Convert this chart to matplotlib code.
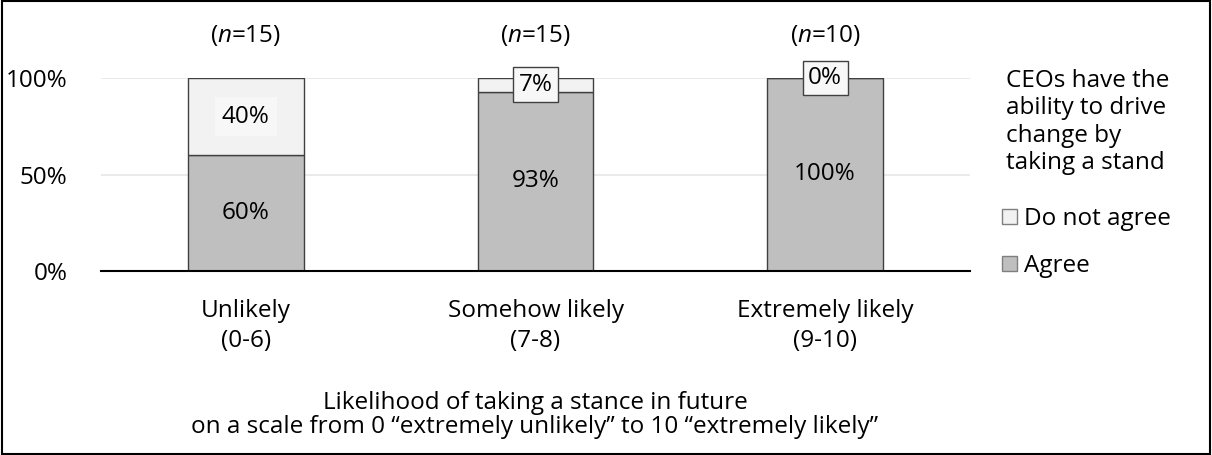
import matplotlib
matplotlib.use('Agg')
import matplotlib.pyplot as plt
from matplotlib.patches import Rectangle, Patch

# data
categories = ['Unlikely\n(0-6)', 'Somehow likely\n(7-8)', 'Extremely likely\n(9-10)']
n_sizes = [15, 15, 10]
agree = [60, 93, 100]
not_agree = [40, 7, 0]

plt.rcParams['font.family'] = ['Open Sans', 'DejaVu Sans']
plt.rcParams['mathtext.fontset'] = 'custom'
plt.rcParams['mathtext.it'] = 'Open Sans:italic'
plt.rcParams['mathtext.rm'] = 'Open Sans'
fs = 17.5

fig = plt.figure(figsize=(12.12, 4.55), dpi=100)
ax = fig.add_axes([101/1212, 1 - 271/455, (970-101)/1212, (271-78)/455])

x = range(len(categories))
c_agree = '#BFBFBF'
c_not = '#F2F2F2'
edge = '#404040'
ax.bar(x, agree, width=0.4, color=c_agree, edgecolor=edge, linewidth=1, label='Agree', zorder=3)
ax.bar(x, not_agree, width=0.4, bottom=agree, color=c_not, edgecolor=edge, linewidth=1,
       label='Do not agree', zorder=3)

for i in x:
    ax.text(i, agree[i] / 2, f'{agree[i]}%', ha='center', va='center', fontsize=fs, zorder=4)
    y = agree[i] + not_agree[i] / 2
    if not_agree[i] >= 20:
        box = dict(boxstyle='square,pad=0.3', facecolor='#F7F7F7', edgecolor='none')
    else:
        box = dict(boxstyle='square,pad=0.22', facecolor='#F7F7F7', edgecolor=edge, linewidth=1)
    ax.text(i, y, f'{not_agree[i]}%', ha='center', va='center', fontsize=fs, bbox=box, zorder=5)
    ax.text(i, 122, f'($\\it{{n}}$={n_sizes[i]})', ha='center', va='center', fontsize=fs,
            clip_on=False)

ax.set_xlim(-0.5, 2.5)
ax.set_ylim(0, 100)
ax.set_yticks([0, 50, 100])
ax.set_yticklabels(['0%', '50%', '100%'])
ax.set_xticks(list(x))
ax.set_xticklabels(categories, linespacing=1.35)
ax.tick_params(axis='both', length=0, labelsize=fs)
ax.tick_params(axis='y', pad=24)
ax.tick_params(axis='x', pad=20)
ax.yaxis.grid(True, color='#E6E6E6', linewidth=1.2, zorder=0)
ax.set_axisbelow(True)
for s in ['top', 'right', 'left']:
    ax.spines[s].set_visible(False)
ax.spines['bottom'].set_linewidth(1.5)
ax.spines['bottom'].set_zorder(4)

fig.text(535/1212, 1 - 415/455,
         'Likelihood of taking a stance in future\non a scale from 0 \u201cextremely unlikely\u201d to 10 \u201cextremely likely\u201d',
         ha='center', va='center', fontsize=fs, linespacing=1.05)

# legend title as plain text, entries as a legend below it
fig.text(1006/1212, 1 - 122/455, 'CEOs have the\nability to drive\nchange by\ntaking a stand',
         ha='left', va='center', fontsize=fs, linespacing=1.2)
handles = [Patch(facecolor=c_not, edgecolor='#7F7F7F', label='Do not agree'),
           Patch(facecolor=c_agree, edgecolor='#7F7F7F', label='Agree')]
fig.legend(handles=handles, loc='upper left', bbox_to_anchor=(985/1212, 1 - 190/455),
           frameon=False, fontsize=fs, handlelength=0.6, handleheight=0.6,
           handletextpad=0.3, labelspacing=0.95, borderpad=0.2)

fig.add_artist(Rectangle((0.002, 0.003), 0.996, 0.994, transform=fig.transFigure,
                         fill=False, edgecolor='black', linewidth=1.5))

fig.savefig('out.png', dpi=100)
